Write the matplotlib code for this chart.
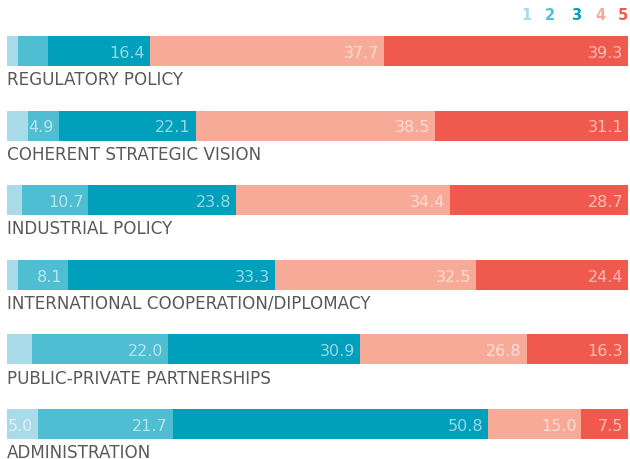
import matplotlib.pyplot as plt
import numpy as np

plt.rcParams["font.family"] = ["DejaVu Sans"]

categories = [
    "REGULATORY POLICY",
    "COHERENT STRATEGIC VISION",
    "INDUSTRIAL POLICY",
    "INTERNATIONAL COOPERATION/DIPLOMACY",
    "PUBLIC-PRIVATE PARTNERSHIPS",
    "ADMINISTRATION",
]
levels = ["1", "2", "3", "4", "5"]
score1 = [1.8, 3.4, 2.4, 1.7, 4.0, 5.0]
score2 = [4.8, 4.9, 10.7, 8.1, 22.0, 21.7]
score3 = [16.4, 22.1, 23.8, 33.3, 30.9, 50.8]
score4 = [37.7, 38.5, 34.4, 32.5, 26.8, 15.0]
score5 = [39.3, 31.1, 28.7, 24.4, 16.3, 7.5]

colors = ["#a9dbe8", "#4fbdd2", "#009fbb", "#f8aa98", "#f05a4e"]
text_gray = "#58595b"

fig = plt.figure(figsize=(6.3, 4.59), dpi=100)
ax = fig.add_axes([7 / 630, 0, 621 / 630, 1])

y = np.arange(len(categories))
series = [score1, score2, score3, score4, score5]
left = np.zeros(len(categories))
for vals, col in zip(series, colors):
    vals = np.array(vals)
    ax.barh(y, vals, left=left, height=0.402, color=col, linewidth=0)
    for yi, l, v in zip(y, left, vals):
        if v >= 4.9:
            ax.text(l + v - 0.8, yi + 0.03, f"{v:.1f}", ha="right", va="center",
                    fontsize=11.5, color="white", alpha=0.6)
    left += vals

for yi, cat in zip(y, categories):
    ax.text(0, yi + 0.27, cat, ha="left", va="top", fontsize=12.1,
            color=text_gray)

ax.set_xlim(0, 100)
ax.set_ylim(5.469, -0.684)
ax.axis("off")

# legend numbers top right
xs = [526, 550, 576, 600, 623]
for xp, lab, col in zip(xs, levels, colors):
    fig.text(xp / 630, 1 - 15 / 459, lab, ha="center", va="center",
             fontsize=10.5, fontweight="bold", color=col)

fig.savefig("out.png", dpi=100)
